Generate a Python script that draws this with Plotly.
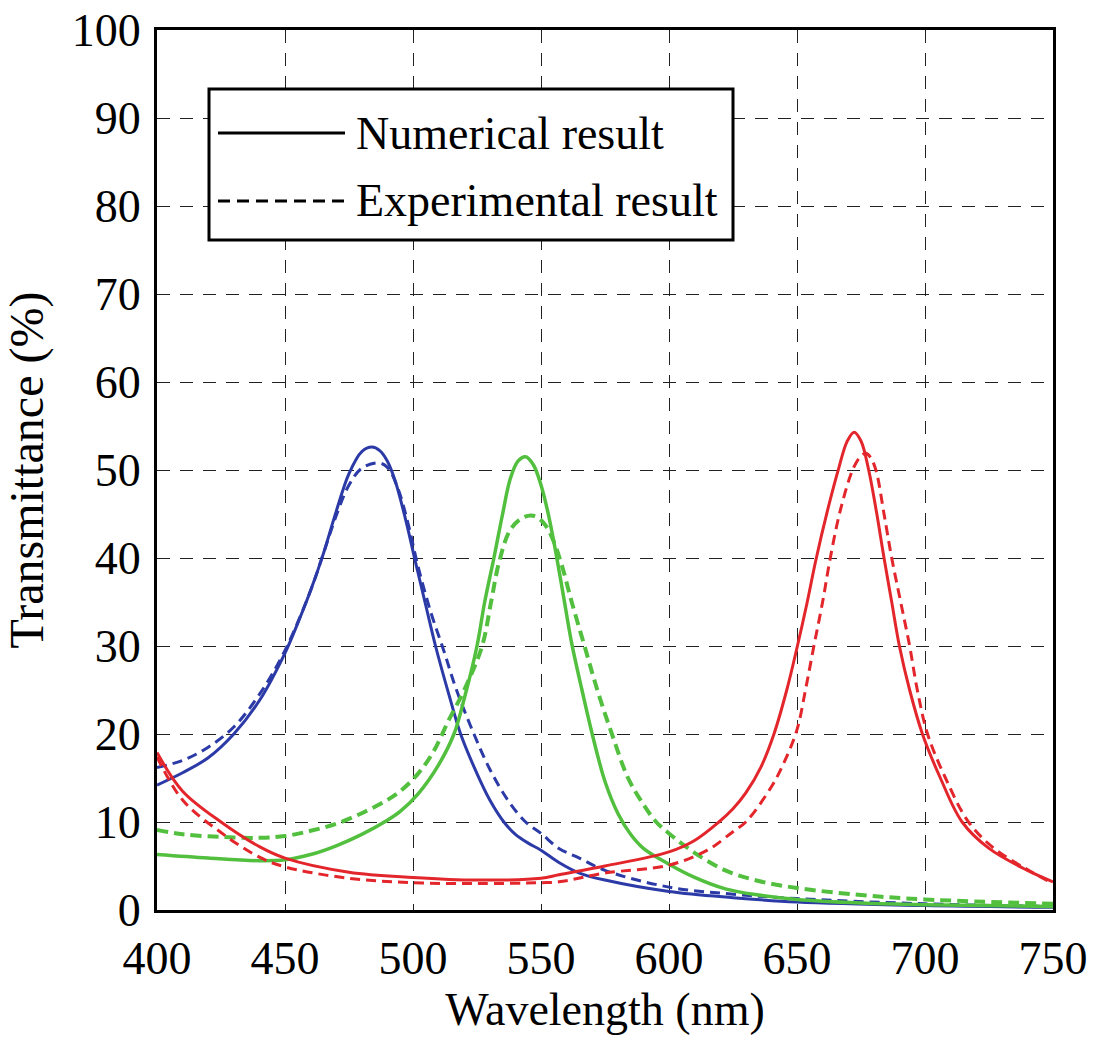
import plotly.graph_objects as go

# ---------------- data ----------------
blue_num_x = [400, 410, 420, 430, 440, 450, 455, 460, 465, 470, 475, 480, 484, 487, 490, 493, 497, 501, 505, 508.8, 514, 518.6, 525, 530, 535.5, 540, 545, 550, 557, 565, 575, 600, 625, 650, 700, 750]
blue_num_y = [14.2, 15.6, 17.3, 20.0, 23.8, 29.2, 32.6, 36.3, 40.5, 45.3, 49.6, 52.1, 52.6, 52.2, 51.0, 48.8, 44.5, 39.5, 34.6, 30.0, 24.5, 20.0, 15.5, 12.5, 10.0, 8.6, 7.6, 6.8, 5.4, 4.2, 3.4, 2.1, 1.4, 0.9, 0.5, 0.3]

blue_exp_x = [400, 410, 420, 430, 440, 450, 460, 465, 470, 475, 480, 486.7, 490, 494, 498, 502, 507, 512, 517, 523.8, 530, 537, 544, 550, 557, 565, 575, 600, 625, 650, 700, 750]
blue_exp_y = [16.2, 17.0, 18.5, 20.8, 24.5, 29.5, 36.3, 40.5, 44.8, 48.3, 50.2, 50.8, 50.3, 48.0, 44.0, 39.0, 33.8, 29.5, 25.0, 20.0, 16.0, 12.5, 10.0, 8.7, 7.0, 5.9, 4.5, 2.6, 1.8, 1.3, 0.7, 0.4]

green_num_x = [400, 420, 440, 450, 460, 470, 480, 490, 495, 502, 510, 516, 520, 525, 528, 531.6, 535, 538, 541, 544, 547, 550, 553, 556, 559, 562, 566, 570, 575, 580, 585, 590, 600, 610, 622, 635, 650, 675, 700, 750]
green_num_y = [6.3, 5.9, 5.6, 5.7, 6.3, 7.3, 8.6, 10.2, 11.2, 13.2, 16.5, 20.0, 24.0, 30.0, 35.0, 40.0, 45.0, 49.0, 51.0, 51.5, 50.6, 48.3, 44.8, 40.3, 35.3, 30.3, 25.0, 20.0, 14.6, 11.0, 8.6, 7.0, 5.2, 3.7, 2.4, 1.7, 1.2, 0.8, 0.6, 0.4]

green_exp_x = [400, 410, 425, 440, 450, 460, 470, 480, 490, 495, 502, 508, 514, 520, 527, 530.5, 533.6, 538, 543, 547, 551, 554.5, 558, 562, 567, 572, 577.7, 584, 590, 595, 600, 610, 622, 635, 650, 675, 700, 750]
green_exp_y = [9.1, 8.6, 8.3, 8.2, 8.4, 9.0, 9.8, 11.0, 12.5, 13.5, 15.5, 18.0, 21.6, 25.0, 30.0, 35.0, 39.5, 43.2, 44.6, 44.8, 44.0, 42.2, 39.3, 35.0, 30.0, 25.0, 20.0, 15.0, 12.0, 10.0, 8.7, 6.5, 4.5, 3.3, 2.5, 1.7, 1.2, 0.7]

red_num_x = [400, 410, 425, 440, 450, 475, 500, 525, 550, 557, 575, 600, 610, 619.5, 625, 630, 636, 641, 646, 650, 654, 657.4, 662, 666.4, 669.5, 672.3, 675, 678, 681, 684, 687, 690, 694, 699, 706, 714.5, 725, 740, 750]
red_num_y = [17.9, 13.5, 10.0, 7.2, 5.9, 4.3, 3.7, 3.4, 3.6, 4.0, 5.0, 6.6, 7.9, 10.0, 11.5, 13.3, 16.3, 20.0, 25.0, 29.8, 35.0, 39.8, 45.5, 50.3, 53.2, 54.3, 53.3, 50.0, 45.3, 40.0, 35.0, 30.0, 25.0, 20.0, 15.0, 10.0, 7.0, 4.5, 3.2]

red_exp_x = [400, 410, 425, 440, 450, 475, 500, 525, 550, 557, 575, 600, 615, 625, 630, 640, 645, 650, 653.5, 656.6, 660, 663, 667, 672, 675, 677, 679, 681, 684, 687, 690.5, 694, 697, 701, 708, 717, 727, 740, 750]
red_exp_y = [17.4, 12.5, 8.8, 6.0, 4.9, 3.6, 3.1, 3.0, 3.1, 3.2, 4.2, 5.1, 6.8, 8.9, 10.0, 14.0, 16.8, 20.5, 25.3, 30.0, 35.0, 40.0, 45.5, 50.2, 51.6, 51.9, 51.3, 49.8, 45.0, 40.0, 35.0, 30.0, 25.0, 20.0, 15.0, 10.0, 7.0, 4.6, 3.0]

legend_labels = ["Numerical result", "Experimental result"]
x_ticks = [400, 450, 500, 550, 600, 650, 700, 750]
y_ticks = [0, 10, 20, 30, 40, 50, 60, 70, 80, 90, 100]

# ---------------- styling ----------------
FONT = "Liberation Serif"
FS = 46
BLUE = "#2b3aa6"
GREEN = "#52c03e"
RED = "#e3262b"

fig = go.Figure()

series = [
    (blue_num_x, blue_num_y, BLUE, "solid", 3),
    (blue_exp_x, blue_exp_y, BLUE, "10px,6px", 3),
    (green_num_x, green_num_y, GREEN, "solid", 3.5),
    (green_exp_x, green_exp_y, GREEN, "11px,6px", 4),
    (red_num_x, red_num_y, RED, "solid", 3),
    (red_exp_x, red_exp_y, RED, "10px,6px", 3),
]
for xs, ys, col, dash, w in series:
    fig.add_trace(go.Scatter(
        x=xs, y=ys, mode="lines",
        line=dict(color=col, width=w, dash=dash, shape="spline", smoothing=1.0),
        showlegend=False, hoverinfo="skip",
    ))

# ---------------- manual legend ----------------
L, R, T, B = 157, 1053, 30, 910
def px(x):
    return (x - L) / (R - L)
def py(y):
    return (B - y) / (B - T)

shapes = [
    dict(type="rect", xref="paper", yref="paper",
         x0=px(209), x1=px(733), y0=py(240), y1=py(89),
         line=dict(color="black", width=3), fillcolor="white", layer="above"),
    dict(type="line", xref="paper", yref="paper",
         x0=px(218), x1=px(345), y0=py(133), y1=py(133),
         line=dict(color="black", width=3), layer="above"),
    dict(type="line", xref="paper", yref="paper",
         x0=px(218), x1=px(345), y0=py(201), y1=py(201),
         line=dict(color="black", width=3, dash="12px,7px"), layer="above"),
]
annotations = [
    dict(xref="paper", yref="paper", x=px(354), y=py(133), text=legend_labels[0],
         showarrow=False, xanchor="left", yanchor="middle",
         font=dict(family=FONT, size=FS, color="black")),
    dict(xref="paper", yref="paper", x=px(354), y=py(200), text=legend_labels[1],
         showarrow=False, xanchor="left", yanchor="middle",
         font=dict(family=FONT, size=FS, color="black")),
]

grid_common = dict(
    showgrid=True, gridcolor="#222222", gridwidth=1.3, griddash="13px,10px",
    showline=True, linecolor="black", linewidth=3, mirror=True,
    ticks="", zeroline=False,
    tickfont=dict(family=FONT, size=FS, color="black"),
)

fig.update_layout(
    width=1096, height=1041,
    margin=dict(l=L, r=1096 - R, t=T, b=1041 - B, autoexpand=False),
    paper_bgcolor="white", plot_bgcolor="white",
    font=dict(family=FONT, size=FS, color="black"),
    xaxis=dict(range=[400, 750], tickvals=x_ticks, ticktext=[str(v) for v in x_ticks],
               title=dict(text="Wavelength (nm)", font=dict(family=FONT, size=FS), standoff=0),
               ticklabelstandoff=6, **grid_common),
    yaxis=dict(range=[0, 100], tickvals=y_ticks, ticktext=[str(v) for v in y_ticks],
               title=dict(text="Transmittance (%)", font=dict(family=FONT, size=48), standoff=16),
               ticklabelstandoff=4, **grid_common),
    shapes=shapes, annotations=annotations,
    showlegend=False,
)

fig.write_html("out.html")
